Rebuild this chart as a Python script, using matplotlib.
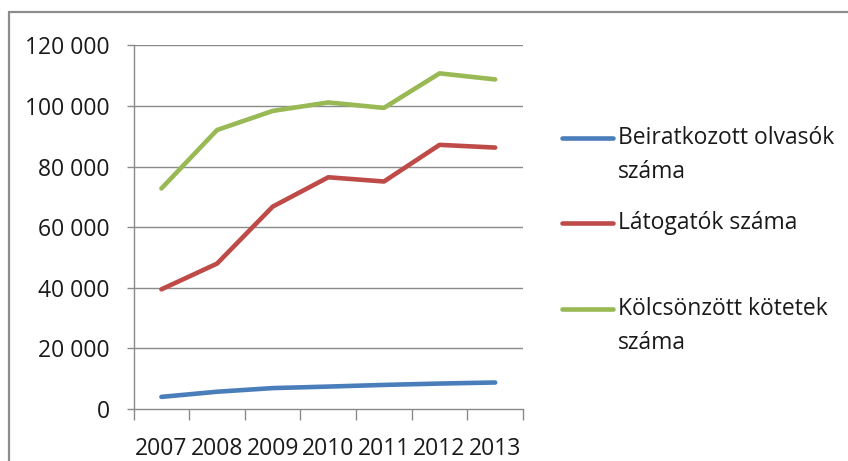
import matplotlib

matplotlib.use("Agg")
import matplotlib.pyplot as plt
from matplotlib.lines import Line2D
from matplotlib.patches import Rectangle
from matplotlib.ticker import FuncFormatter, FixedLocator

years = ["2007", "2008", "2009", "2010", "2011", "2012", "2013"]
readers = [4000, 5700, 6900, 7400, 7950, 8400, 8750]
visitors = [39500, 48000, 66800, 76500, 75100, 87200, 86300]
loans = [72800, 92100, 98400, 101200, 99400, 110800, 108800]

series_labels = ["Beiratkozott olvasók\nszáma", "Látogatók száma", "Kölcsönzött kötetek\nszáma"]
series_colors = ["#4A7EBB", "#BE4B48", "#98B954"]
yticks = [0, 20000, 40000, 60000, 80000, 100000, 120000]

W, H = 848, 461
plt.rcParams["font.family"] = ["Open Sans", "DejaVu Sans"]

fig = plt.figure(figsize=(W / 100, H / 100), dpi=100)
fig.patch.set_facecolor("white")

# outer chart border (only top and left edges visible in the crop)
fig.add_artist(Rectangle((9 / W, -0.1), 1.2, (H - 12) / H + 0.1, transform=fig.transFigure,
                         fill=False, edgecolor="#8c8c8c", linewidth=1.6))

ax = fig.add_axes([133.6 / W, (H - 409) / H, (523 - 133.6) / W, (409 - 45.5) / H])
x = list(range(len(years)))

grid_col = "#8a8a8a"
for v in yticks[1:]:
    ax.axhline(v, color=grid_col, linewidth=1.0, zorder=1)

for vals, col in zip([readers, visitors, loans], series_colors):
    ax.plot(x, vals, color=col, linewidth=3.3, solid_capstyle="round",
            solid_joinstyle="round", zorder=3)

ax.set_xlim(-0.5, len(years) - 0.5)
ax.set_ylim(0, 120000)

for s in ["top", "right"]:
    ax.spines[s].set_visible(False)
for s in ["left", "bottom"]:
    ax.spines[s].set_color(grid_col)
    ax.spines[s].set_linewidth(1.0)

ax.set_yticks(yticks)
ax.yaxis.set_major_formatter(FuncFormatter(lambda v, p: f"{int(v):,}".replace(",", " ")))
ax.tick_params(axis="y", length=5, color=grid_col, width=1.0, pad=12, labelsize=16.5,
               labelcolor="#1a1a1a")

ax.set_xticks(x)
ax.set_xticklabels(years)
ax.xaxis.set_minor_locator(FixedLocator([i - 0.5 for i in range(len(years) + 1)]))
ax.tick_params(axis="x", which="major", length=0, pad=20, labelsize=16.5, labelcolor="#1a1a1a")
ax.tick_params(axis="x", which="minor", length=8, color=grid_col, width=1.0)

# legend
handle_y = [137.7, 222.7, 309.0]
for lab, col, hy in zip(series_labels, series_colors, handle_y):
    yf = 1 - hy / H
    fig.add_artist(Line2D([562 / W, 613 / W], [yf, yf], transform=fig.transFigure,
                          color=col, linewidth=3.3, solid_capstyle="round"))
    for k, line in enumerate(lab.split("\n")):
        fig.text(618 / W, 1 - (hy + 34 * k) / H, line, fontsize=16.5, color="#1a1a1a",
                 va="center", ha="left")

fig.savefig("out.png", dpi=100)
